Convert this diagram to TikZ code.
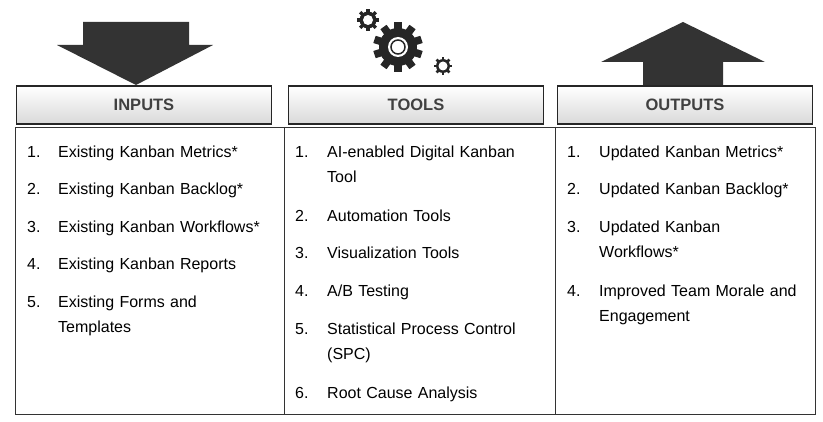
\documentclass[tikz,border=0pt]{standalone}
\usepackage{fontspec}
\setmainfont{Liberation Sans}
\tikzset{
  head/.style={draw=black!85,line width=1.2pt,top color=white,bottom color=black!15,font=\fontsize{16.5}{18}\selectfont\bfseries,text=black!75,minimum width=255pt,minimum height=38pt,inner sep=0pt},
  item/.style={anchor=north west,inner sep=0pt,font=\fontsize{16}{25}\selectfont,align=left,text width=220pt},
  num/.style={anchor=north west,inner sep=0pt,font=\fontsize{16}{25}\selectfont}
}
\newcommand{\cog}[4]{% center, radius, teeth, hole
  \begin{scope}[shift={#1}]
  \fill[black!85] (0,0) circle (#2);
  \foreach \k in {1,...,#3}
    \fill[black!85,rotate=\k*360/#3] (-#2*0.2,-#2*0.8) rectangle (#2*0.2,-#2*1.3);
  \fill[white] (0,0) circle (#4);
  \end{scope}}
\begin{document}
\begin{tikzpicture}[x=1pt,y=-1pt]
	\useasboundingbox (0,0) rectangle (823,422);
	%arrows
	\fill[black!80] (83,22) -- (189,22) -- (189,45) -- (213,45) -- (136,85) -- (57,45) -- (83,45) -- cycle;
	\fill[black!80] (643,86) -- (723,86) -- (723,62) -- (765,62) -- (683,22) -- (601,62) -- (643,62) -- cycle;
	%gears
	\cog{(398,47)}{19}{10}{10}
	\draw[black!85,line width=1.5pt] (398,47) circle (7);
	\cog{(368,20)}{8.5}{8}{5}
	\cog{(443,66)}{7}{8}{4.5}
	%headers
	\node[head] (inputs) at (144,105) {INPUTS};
	\node[head] (tools) at (416,105) {TOOLS};
	\node[head] (outputs) at (685,105) {OUTPUTS};
	%table
	\draw[black!80] (15,127) rectangle (815,414);
	\draw[black!80] (284,127) -- (284,414) (555,127) -- (555,414);
	%inputs
	\foreach \n/\y/\t in {1/146/Existing Kanban Metrics*,2/183/Existing Kanban Backlog*,3/221/Existing Kanban Workflows*,4/258/Existing Kanban Reports,5/296/{Existing Forms and\\Templates}}{
		\node[num] (in\n) at (27,\y) {\n.};
		\node[item] (int\n) at (58,\y) {\t};}
	%tools
	\foreach \n/\y/\t in {1/146/{AI-enabled Digital Kanban\\Tool},2/210/Automation Tools,3/247/Visualization Tools,4/285/{A/B Testing},5/323/{Statistical Process Control\\(SPC)},6/387/Root Cause Analysis}{
		\node[num] (to\n) at (295,\y) {\n.};
		\node[item] (tot\n) at (327,\y) {\t};}
	%outputs
	\foreach \n/\y/\t in {1/146/Updated Kanban Metrics*,2/183/Updated Kanban Backlog*,3/221/{Updated Kanban\\Workflows*},4/285/{Improved Team Morale and\\Engagement}}{
		\node[num] (ou\n) at (567,\y) {\n.};
		\node[item] (out\n) at (599,\y) {\t};}
\end{tikzpicture}
\end{document}
